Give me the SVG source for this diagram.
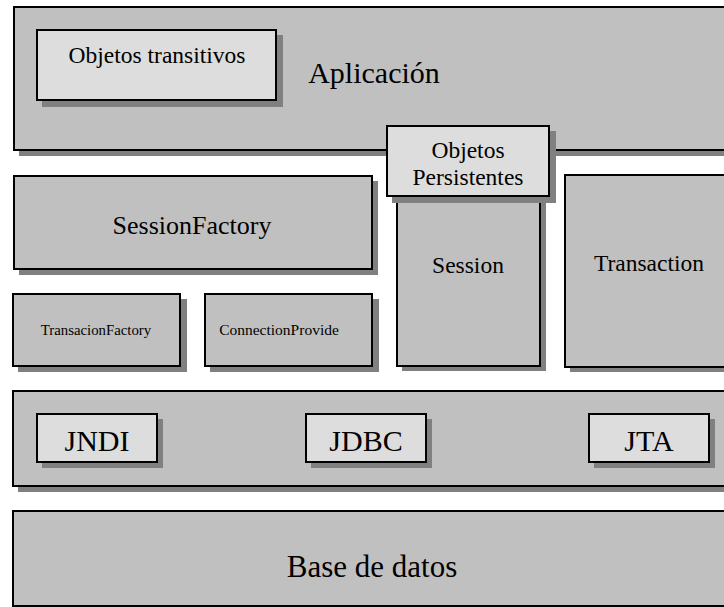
<svg xmlns="http://www.w3.org/2000/svg" width="724" height="607" viewBox="0 0 724 607" font-family="'Liberation Serif', 'Times New Roman', Tinos, 'DejaVu Serif', 'Noto Serif', serif">
<style>
.sh{fill:#808080}
.box{fill:#c0c0c0;stroke:#000;stroke-width:2}
.lt{fill:#dddddd;stroke:#000;stroke-width:2}
text{font-family:'Liberation Serif','Times New Roman',Tinos,'DejaVu Serif','Noto Serif',serif;fill:#000;text-anchor:middle}
</style>
<rect width="724" height="607" fill="#fff"/>
<g id="aplicacion">
<rect class="sh" x="19" y="12" width="720" height="144"/>
<rect class="box" x="14" y="7" width="720" height="143"/>
<text x="374" y="83" font-size="30">Aplicación</text>
</g>
<g id="objetos-transitivos">
<rect class="sh" x="42" y="35" width="241" height="72"/>
<rect class="lt" x="37" y="30" width="239" height="70"/>
<text x="157" y="63" font-size="23.5">Objetos transitivos</text>
</g>
<g id="sessionfactory">
<rect class="sh" x="19" y="181" width="359" height="94"/>
<rect class="box" x="14" y="176" width="358" height="93"/>
<text x="192" y="234" font-size="26">SessionFactory</text>
</g>
<g id="session">
<rect class="sh" x="402" y="181" width="144" height="190"/>
<rect class="box" x="397" y="176" width="143" height="190"/>
<text x="468" y="273" font-size="23.5">Session</text>
</g>
<g id="transaction">
<rect class="sh" x="570" y="180" width="170" height="192"/>
<rect class="box" x="565" y="175" width="170" height="192"/>
<text x="649" y="271" font-size="23.5">Transaction</text>
</g>
<g id="objetos-persistentes">
<rect class="sh" x="392" y="131" width="164" height="72"/>
<rect class="lt" x="387" y="126" width="162" height="70"/>
<text x="468" y="158" font-size="23.5">Objetos</text>
<text x="468" y="185" font-size="23.5">Persistentes</text>
</g>
<g id="transacionfactory">
<rect class="sh" x="18" y="299" width="169" height="73"/>
<rect class="box" x="13" y="294" width="167" height="72"/>
<text x="96" y="335" font-size="14.8">TransacionFactory</text>
</g>
<g id="connectionprovide">
<rect class="sh" x="210" y="299" width="169" height="73"/>
<rect class="box" x="205" y="294" width="167" height="72"/>
<text x="279" y="335" font-size="15.5">ConnectionProvide</text>
</g>
<g id="capa-servicios">
<rect class="sh" x="18" y="396" width="720" height="96"/>
<rect class="box" x="13" y="391" width="720" height="95"/>
</g>
<g id="jndi">
<rect class="sh" x="42" y="419" width="121" height="49"/>
<rect class="lt" x="37" y="414" width="120" height="48"/>
<text x="97" y="451" font-size="30">JNDI</text>
</g>
<g id="jdbc">
<rect class="sh" x="311" y="419" width="121" height="49"/>
<rect class="lt" x="306" y="414" width="120" height="48"/>
<text x="366" y="451" font-size="30">JDBC</text>
</g>
<g id="jta">
<rect class="sh" x="594" y="419" width="121" height="49"/>
<rect class="lt" x="589" y="414" width="120" height="48"/>
<text x="649" y="451" font-size="30">JTA</text>
</g>
<g id="base-de-datos">
<rect class="box" x="13" y="511" width="720" height="95"/>
<text x="372" y="577" font-size="31">Base de datos</text>
</g>
<g id="connectors"/>
</svg>
